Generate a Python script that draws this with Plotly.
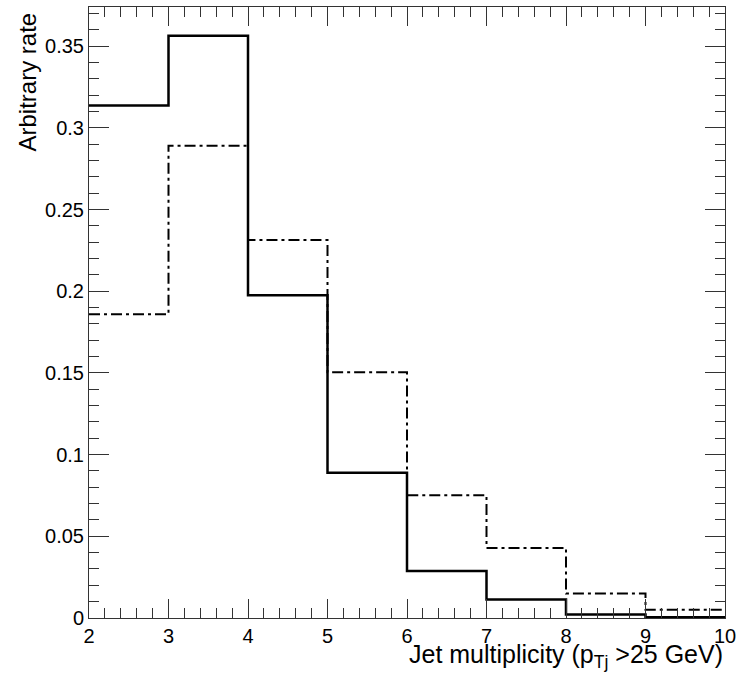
import plotly.graph_objects as go

# bin edges of the jet multiplicity histogram
edges = [2, 3, 4, 5, 6, 7, 8, 9, 10]
# solid histogram contents
solid_vals = [0.3137, 0.3564, 0.1975, 0.0889, 0.0288, 0.0113, 0.0021, 0.0005]
# dash-dot histogram contents
dashdot_vals = [0.1859, 0.2890, 0.2314, 0.1504, 0.0752, 0.0429, 0.0150, 0.0051]

y_tickvals = [0, 0.05, 0.1, 0.15, 0.2, 0.25, 0.3, 0.35]
y_ticktext = ["0", "0.05", "0.1", "0.15", "0.2", "0.25", "0.3", "0.35"]
x_tickvals = [2, 3, 4, 5, 6, 7, 8, 9, 10]
x_ticktext = ["2", "3", "4", "5", "6", "7", "8", "9", "10"]

fig = go.Figure()
fig.add_trace(go.Scatter(
    x=edges, y=dashdot_vals + [dashdot_vals[-1]], mode="lines",
    line=dict(shape="hv", color="black", width=2, dash="11px,4px,3px,4px"),
    showlegend=False, hoverinfo="skip"))
fig.add_trace(go.Scatter(
    x=edges, y=solid_vals + [solid_vals[-1]], mode="lines",
    line=dict(shape="hv", color="black", width=2.5),
    showlegend=False, hoverinfo="skip"))

font_family = "Liberation Sans, Arial, sans-serif"
fig.update_layout(
    width=744, height=678,
    margin=dict(l=89, r=19, t=7, b=60, autoexpand=False),
    paper_bgcolor="white", plot_bgcolor="white",
    font=dict(family=font_family, size=20, color="black"),
    showlegend=False,
    xaxis=dict(
        range=[2, 10], showgrid=False, zeroline=False, automargin=False,
        showline=True, linecolor="#333", linewidth=1, mirror="ticks",
        ticks="inside", ticklen=19, tickcolor="#333", tickwidth=1,
        tickvals=x_tickvals, ticktext=x_ticktext,
        tickfont=dict(size=20, family=font_family),
        minor=dict(ticks="inside", ticklen=10, dtick=0.2, tickcolor="#333",
                   tickwidth=1, showgrid=False),
    ),
    yaxis=dict(
        range=[0, 0.374], showgrid=False, zeroline=False, automargin=False,
        showline=True, linecolor="#333", linewidth=1, mirror="ticks",
        ticks="inside", ticklen=20, tickcolor="#333", tickwidth=1,
        tickvals=y_tickvals, ticktext=y_ticktext,
        tickfont=dict(size=20, family=font_family),
        minor=dict(ticks="inside", ticklen=10, dtick=0.01, tickcolor="#333",
                   tickwidth=1, showgrid=False),
    ),
    annotations=[
        dict(text="Jet multiplicity (p<sub>Tj</sub> >25 GeV)", xref="paper", yref="paper",
             x=1.0, y=-0.033, xanchor="right", yanchor="top", showarrow=False,
             font=dict(size=25, family=font_family, color="black")),
        dict(text="Arbitrary rate", xref="paper", yref="paper",
             x=-0.096, y=0.995, xanchor="center", yanchor="top", textangle=-90,
             showarrow=False,
             font=dict(size=24, family=font_family, color="black")),
    ],
)

fig.write_html("out.html", config={"displayModeBar": False},
               post_script="document.body.style.margin='0';document.body.style.overflow='hidden';")
